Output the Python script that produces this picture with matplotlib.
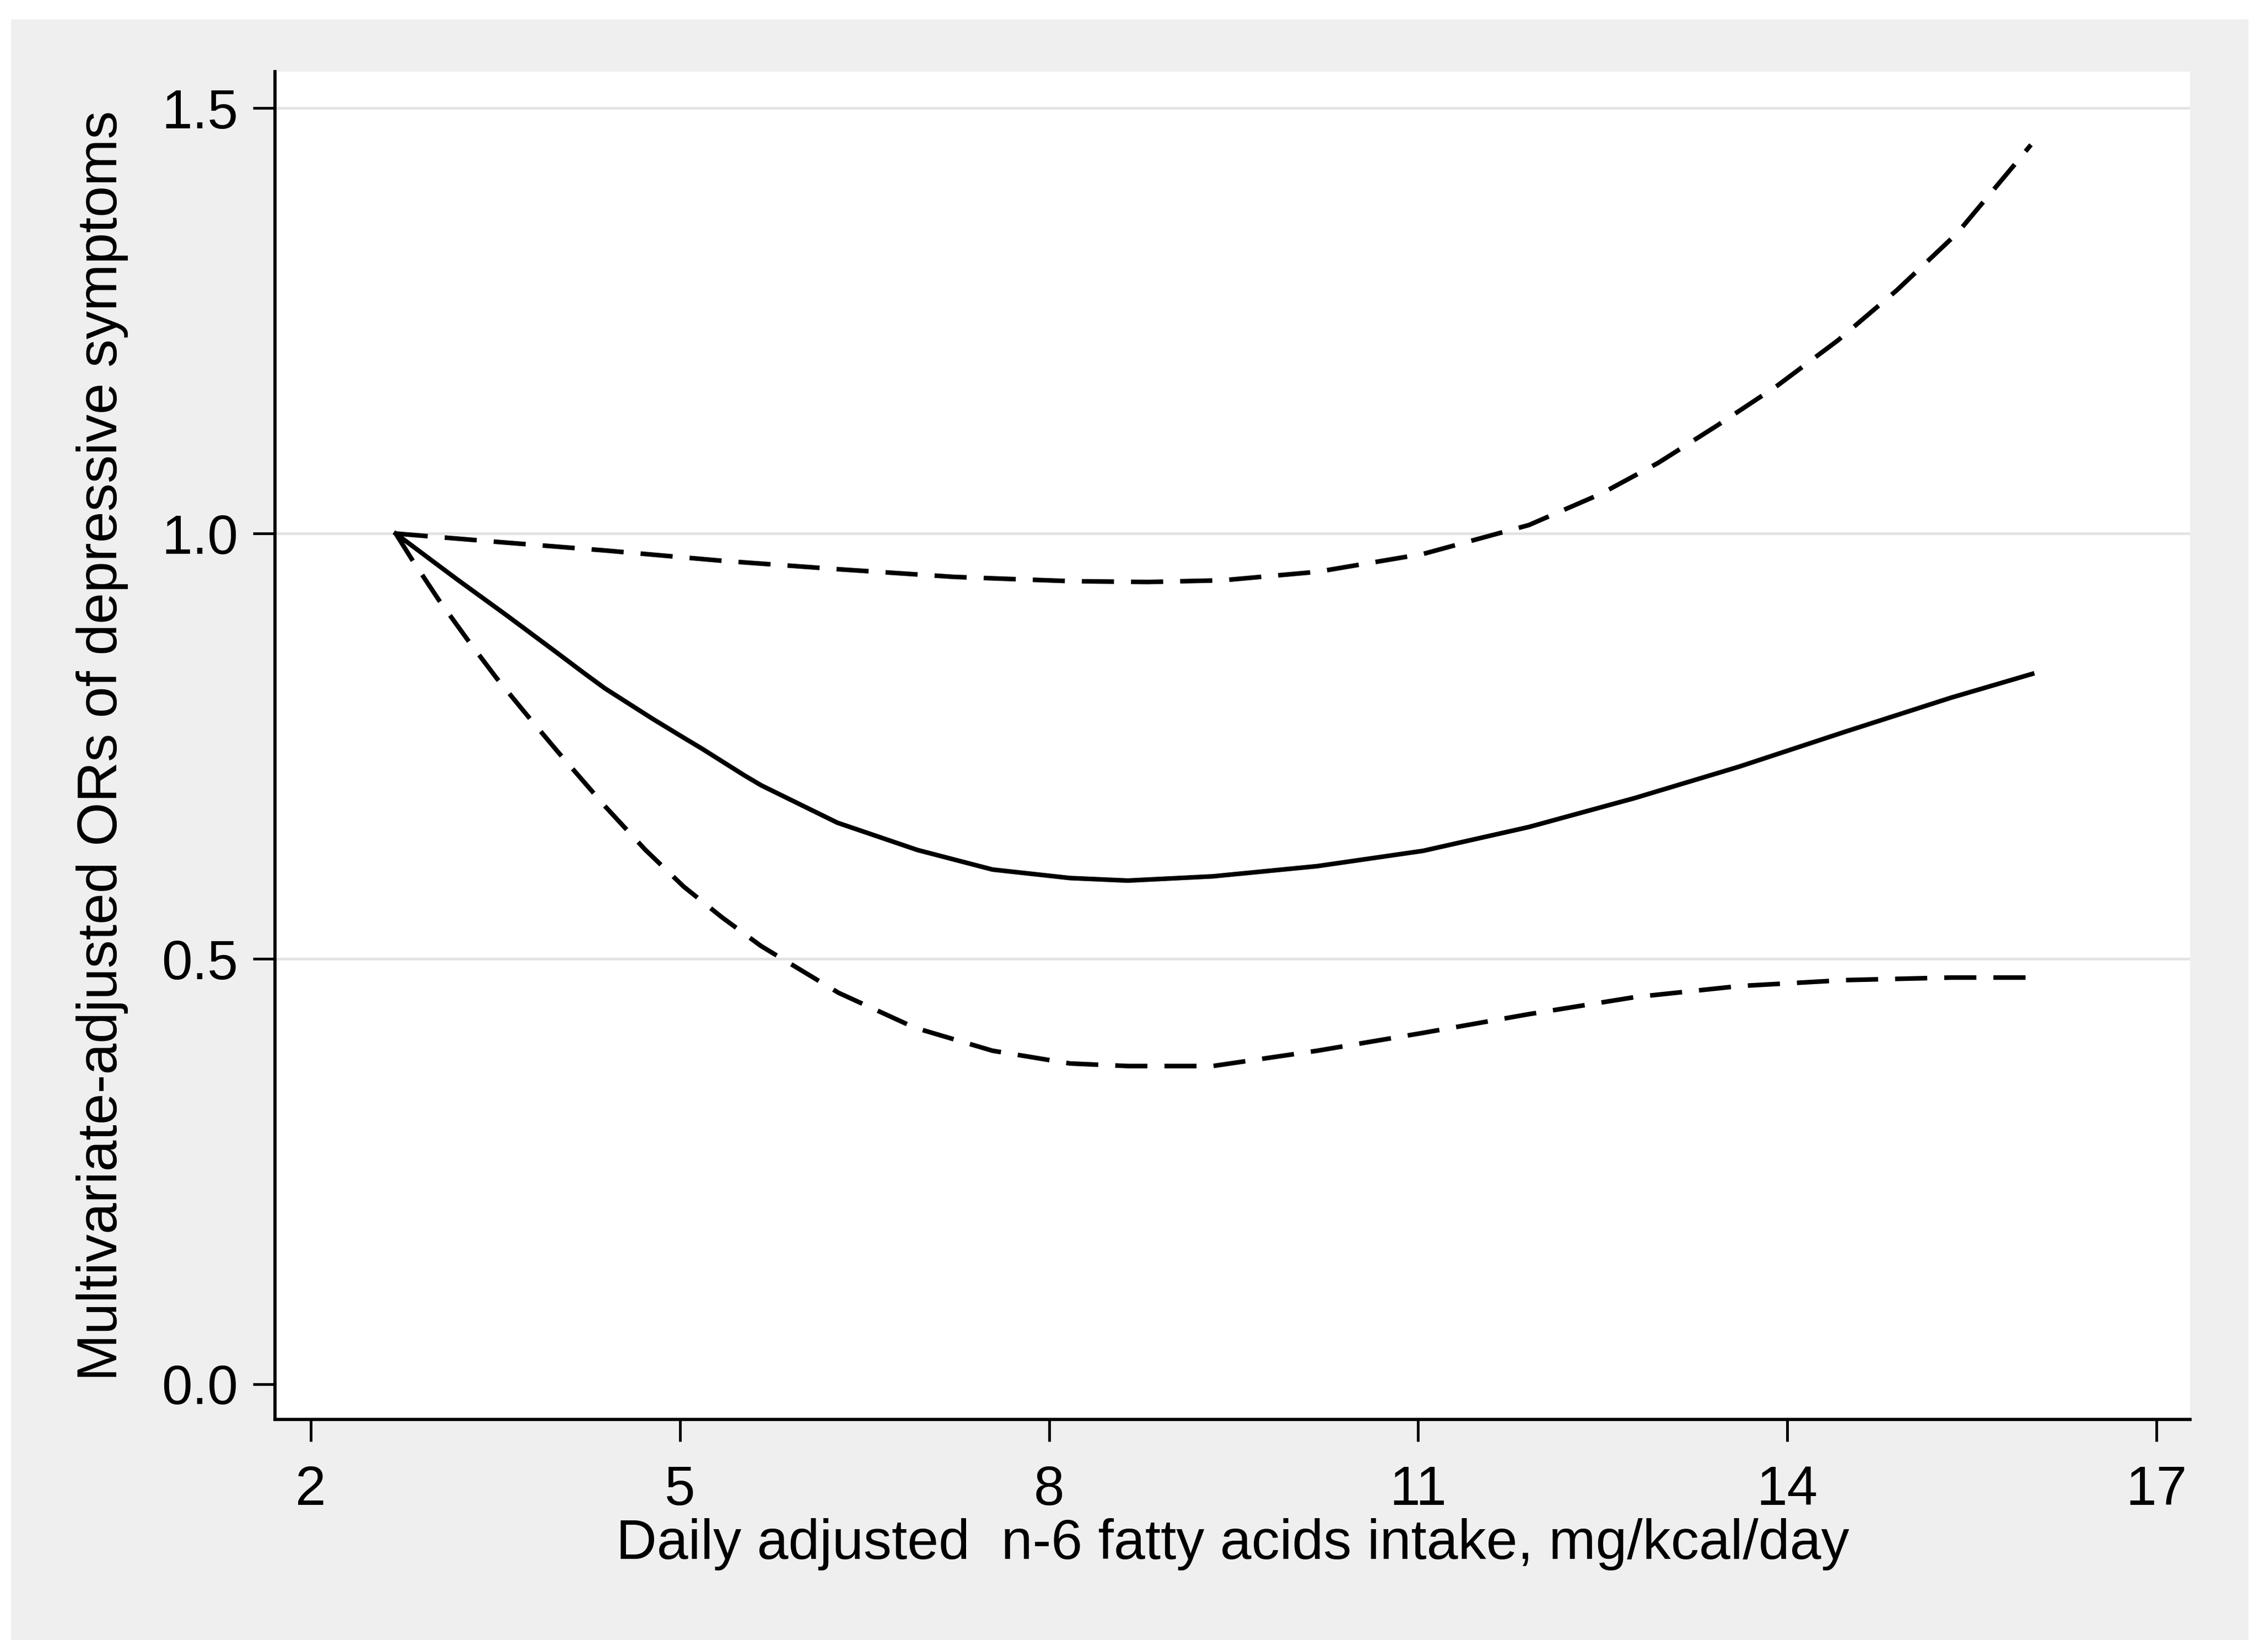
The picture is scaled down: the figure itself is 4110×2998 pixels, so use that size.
import numpy as np
import matplotlib.pyplot as plt
from matplotlib.patches import Rectangle

plt.rcParams['font.family'] = ['Liberation Sans', 'DejaVu Sans']

# Curves (x = n-6 intake, y = odds ratio)
solid_x = [2.69, 3.19, 3.59, 3.99, 4.22, 4.39, 4.78, 5.03, 5.18, 5.52, 5.66, 6.28, 6.93, 7.54, 8.17,
           8.64, 9.33, 10.18, 11.04, 11.90, 12.76, 13.61, 14.47, 15.33, 15.99]
solid_y = [1.000, 0.946, 0.904, 0.861, 0.836, 0.818, 0.782, 0.760, 0.747, 0.716, 0.704, 0.660, 0.628, 0.605, 0.595,
           0.592, 0.597, 0.609, 0.627, 0.655, 0.689, 0.726, 0.767, 0.807, 0.835]

lower_x = [2.69, 2.82, 3.04, 3.28, 3.51, 3.76, 4.01, 4.40, 4.72, 5.03, 5.34, 5.66,
           6.29, 6.91, 7.54, 8.17, 8.64, 9.33, 10.18, 11.04, 11.90, 12.76, 13.61,
           14.47, 15.33, 15.97]
lower_y = [1.000, 0.970, 0.922, 0.874, 0.830, 0.786, 0.743, 0.678, 0.628, 0.585, 0.549, 0.515,
           0.460, 0.419, 0.392, 0.377, 0.374, 0.374, 0.392, 0.413, 0.435, 0.455, 0.468,
           0.475, 0.478, 0.478]

upper_x = [2.69, 3.53, 4.40, 5.34, 6.29, 7.23, 8.17, 8.80, 9.41, 10.18, 11.04, 11.90,
           12.49, 12.95, 13.43, 13.92, 14.41, 14.89, 15.38, 15.86, 15.98]
upper_y = [1.000, 0.990, 0.980, 0.968, 0.958, 0.949, 0.944, 0.943, 0.945, 0.955, 0.976, 1.010,
           1.047, 1.083, 1.127, 1.174, 1.227, 1.286, 1.353, 1.436, 1.457]

xticks = [2, 5, 8, 11, 14, 17]
yticks = [0.0, 0.5, 1.0, 1.5]
ytick_labels = ['0.0', '0.5', '1.0', '1.5']
xlabel = 'Daily adjusted  n-6 fatty acids intake, mg/kcal/day'
ylabel = 'Multivariate-adjusted ORs of depressive symptoms'

W, H = 4110, 2998
fig = plt.figure(figsize=(W / 300, H / 300), dpi=300, facecolor='white')

# gray panel behind the plot region, leaving a thin white margin
fig.patches.append(Rectangle((20 / W, 1 - 2976 / H), (4080 - 20) / W, (2976 - 35) / H,
                             transform=fig.transFigure, facecolor='#efefef',
                             edgecolor='none', zorder=-10))

ax = fig.add_axes([499 / W, 1 - 2576 / H, (3974 - 499) / W, (2576 - 130) / H])
ax.set_facecolor('white')

# light horizontal grid (none at 0)
for g in yticks[1:]:
    ax.axhline(g, color='#e2e2e2', lw=1.1, zorder=1)

dash = (7, 3.7)
ax.plot(solid_x, solid_y, color='black', lw=2.0, zorder=3, solid_joinstyle='round')
ax.plot(lower_x, lower_y, color='black', lw=2.0, dashes=dash, dash_capstyle='butt', zorder=3)
ax.plot(upper_x, upper_y, color='black', lw=2.0, dashes=dash, dash_capstyle='butt', zorder=3)

ax.set_xlim(1.709, 17.273)
ax.set_ylim(-0.0415, 1.543)
ax.set_xticks(xticks)
ax.set_yticks(yticks)
ax.set_yticklabels(ytick_labels)

for s in ['top', 'right']:
    ax.spines[s].set_visible(False)
for s in ['left', 'bottom']:
    ax.spines[s].set_linewidth(1.4)
    ax.spines[s].set_color('black')

ax.tick_params(axis='x', length=9.6, width=1.2, labelsize=24, pad=10)
ax.tick_params(axis='y', length=9.6, width=1.2, labelsize=24, pad=6.5)

ax.set_xlabel(xlabel, fontsize=24.5, va='top')
ax.xaxis.set_label_coords(0.5, -0.073)
ax.set_ylabel(ylabel, fontsize=24.5)
ax.yaxis.set_label_coords(-0.0765, 0.5)

fig.savefig('out.png', dpi=300, facecolor='white')
